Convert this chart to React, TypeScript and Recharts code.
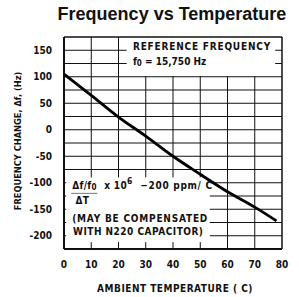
import React from 'react';
import {
  LineChart,
  Line,
  XAxis,
  YAxis,
  ReferenceLine,
  ReferenceDot,
  Label,
} from 'recharts';

// ---- data ----
const temperatures = [0, 10, 20, 30, 40, 50, 60, 70, 78];
const frequencyChange = [105, 65, 24, -12, -50, -84, -117, -146, -172];
const xTicks = [0, 10, 20, 30, 40, 50, 60, 70, 80];
const yTicks = [-200, -150, -100, -50, 0, 50, 100, 150];
const xGridValues = [10, 20, 30, 40, 50, 60, 70];
const yGridValues = [-200, -175, -150, -125, -100, -75, -50, -25, 0, 25, 50, 75, 100, 125, 150];
const xDomain = [0, 80];
const yDomain = [-225, 175];
// note boxes (data coords) that knock out the grid: [x1, x2, y1, y2]
const noteBoxes = [
  [23, 77.5, 101, 175],
  [0.8, 53.5, -212, -90],
];

const data = temperatures.map((t, i) => ({ t, df: frequencyChange[i] }));

// split a line [lo, hi] by removing intervals
const cut = (lo: number, hi: number, holes: number[][]) => {
  let segs = [[lo, hi]];
  holes.forEach(([a, b]) => {
    const next: number[][] = [];
    segs.forEach(([s, e]) => {
      if (b <= s || a >= e) next.push([s, e]);
      else {
        if (a > s) next.push([s, a]);
        if (b < e) next.push([b, e]);
      }
    });
    segs = next;
  });
  return segs;
};

const gridSegments: { x: number; y: number }[][] = [];
yGridValues.forEach((y) => {
  const holes = noteBoxes.filter((b) => y > b[2] && y < b[3]).map((b) => [b[0], b[1]]);
  cut(xDomain[0], xDomain[1], holes).forEach(([a, b]) =>
    gridSegments.push([{ x: a, y }, { x: b, y }])
  );
});
xGridValues.forEach((x) => {
  const holes = noteBoxes.filter((b) => x > b[0] && x < b[1]).map((b) => [b[2], b[3]]);
  cut(yDomain[0], yDomain[1], holes).forEach(([a, b]) =>
    gridSegments.push([{ x, y: a }, { x, y: b }])
  );
});

const NARROW = "'DejaVu Sans Condensed', 'Liberation Sans Narrow', sans-serif";
const WIDE = "'Liberation Sans', Arial, Helvetica, sans-serif";

const textStyle = { fontFamily: NARROW, fontWeight: 700, fontSize: 10, fill: '#111' };

const makeText = (children: React.ReactNode, spacing = 0.3) => (props: any) => {
  const vb = props.viewBox || {};
  const x = (vb.x || 0) + (vb.width || 0) / 2;
  const y = (vb.y || 0) + (vb.height || 0) / 2;
  return (
    <text
      x={x}
      y={y}
      dominantBaseline="central"
      textAnchor="start"
      letterSpacing={spacing}
      style={textStyle as any}
    >
      {children}
    </text>
  );
};

const Anchor = (x: number, y: number, content: any, key: string) => (
  <ReferenceDot key={key} x={x} y={y} r={1} fill="none" stroke="none">
    <Label content={content} />
  </ReferenceDot>
);

export default function App() {
  return (
    <div style={{ position: 'absolute', left: 0, top: 0 }}>
      <LineChart
        width={299}
        height={297}
        data={data}
        margin={{ top: 37, right: 17, bottom: 0, left: 0 }}
      >
        <XAxis
          dataKey="t"
          type="number"
          domain={xDomain}
          ticks={xTicks}
          height={48}
          tickSize={0}
          tickMargin={12}
          axisLine={{ stroke: '#111', strokeWidth: 2 }}
          tick={{ fontFamily: NARROW, fontWeight: 700, fontSize: 10, fill: '#111' }}
        >
          <Label
            content={(props: any) => {
              const vb = props.viewBox || {};
              return (
                <text
                  x={vb.x + vb.width / 2 + 2}
                  y={vb.y + 39}
                  textAnchor="middle"
                  dominantBaseline="central"
                  letterSpacing={0.5}
                  style={{ fontFamily: NARROW, fontWeight: 700, fontSize: 10, fill: '#111' }}
                >
                  AMBIENT TEMPERATURE ( C)
                </text>
              );
            }}
          />
        </XAxis>
        <YAxis
          type="number"
          domain={yDomain}
          ticks={yTicks}
          width={64}
          tickSize={0}
          tickMargin={12}
          axisLine={{ stroke: '#111', strokeWidth: 2 }}
          tick={{ fontFamily: NARROW, fontWeight: 700, fontSize: 10, fill: '#111' }}
        >
          <Label
            content={(props: any) => {
              const vb = props.viewBox || {};
              const cx = vb.x + 17;
              const cy = vb.y + vb.height / 2 - 2;
              return (
                <text
                  x={cx}
                  y={cy}
                  textAnchor="middle"
                  dominantBaseline="central"
                  transform={`rotate(-90 ${cx} ${cy})`}
                  letterSpacing={0}
                  style={{ fontFamily: NARROW, fontWeight: 700, fontSize: 9.2, fill: '#111' }}
                >
                  FREQUENCY CHANGE, Δf, (Hz)
                </text>
              );
            }}
          />
        </YAxis>
        {gridSegments.map((seg, i) => (
          <ReferenceLine key={'g' + i} segment={seg} stroke="#111" strokeWidth={1} />
        ))}
        <ReferenceLine y={175} stroke="#111" strokeWidth={1.5} />
        <ReferenceLine x={80} stroke="#111" strokeWidth={1.5} />
        <ReferenceLine
          segment={[{ x: 2.6, y: -120 }, { x: 12.3, y: -120 }]}
          stroke="#777"
          strokeWidth={1}
        />
        <Line
          dataKey="df"
          type="monotone"
          stroke="#000"
          strokeWidth={2.8}
          dot={false}
          activeDot={false}
          isAnimationActive={false}
        />
        {Anchor(25.3, 157, makeText('REFERENCE FREQUENCY', 0.8), 'ref')}
        {Anchor(
          25.3,
          130,
          makeText(
            <>
              <tspan>f</tspan>
              <tspan dy={2.5} fontSize={8}>0</tspan>
              <tspan dy={-2.5}> = 15,750 Hz</tspan>
            </>,
            0
          ),
          'f0'
        )}
        {Anchor(
          3,
          -104,
          makeText(
            <>
              <tspan>Δf/f</tspan>
              <tspan dy={2.5} fontSize={8}>0</tspan>
            </>
          ),
          'dff'
        )}
        {Anchor(
          14.8,
          -104,
          makeText(
            <>
              <tspan>x 10</tspan>
              <tspan dy={-4} fontSize={8.5}>6</tspan>
            </>
          ),
          'x106'
        )}
        {Anchor(28, -106, makeText('−200 ppm/ C', 0.7), 'ppm')}
        {Anchor(4.2, -134, makeText('ΔT'), 'dt')}
        {Anchor(3, -167, makeText('(MAY BE COMPENSATED', 0.8), 'may')}
        {Anchor(3.3, -192, makeText('WITH N220 CAPACITOR)', 0.5), 'with')}
      </LineChart>
      <div
        style={{
          position: 'absolute',
          left: 45,
          top: 5,
          width: 254,
          textAlign: 'center',
          fontFamily: WIDE,
          fontWeight: 700,
          fontSize: 18,
          lineHeight: '18px',
          color: '#111',
          whiteSpace: 'nowrap',
        }}
      >
        Frequency vs Temperature
      </div>
    </div>
  );
}
